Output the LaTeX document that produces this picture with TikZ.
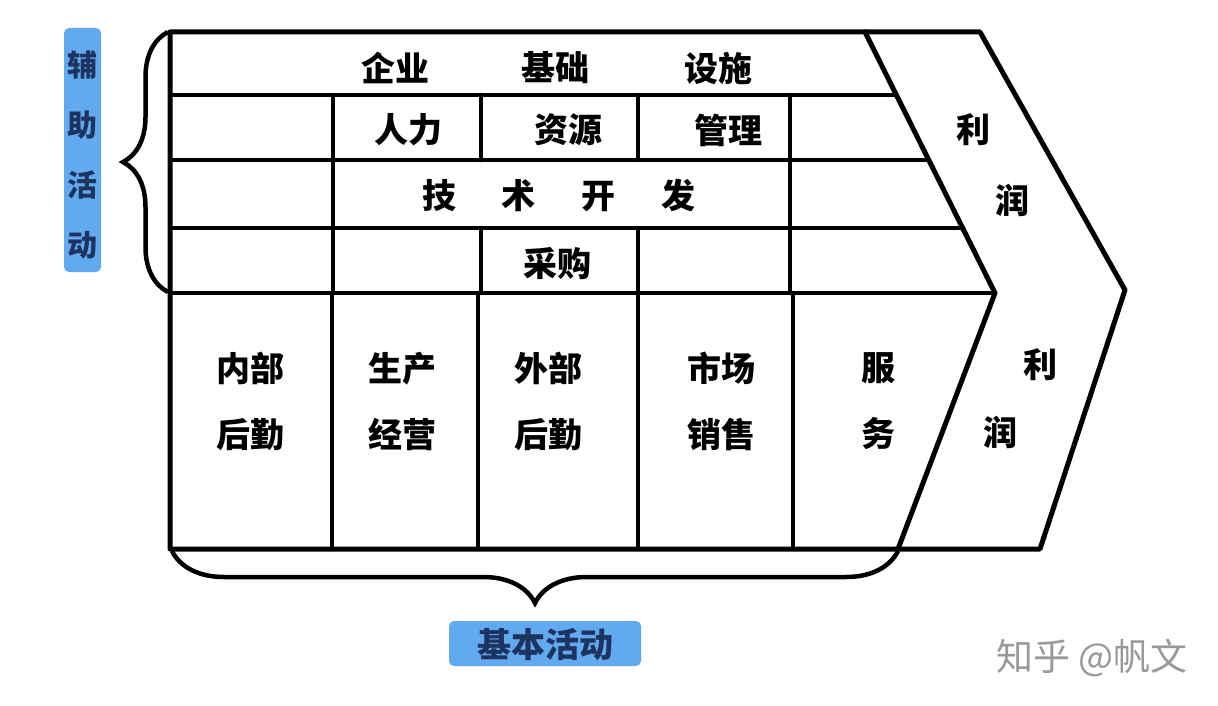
\documentclass[tikz,border=0pt]{standalone}
\usepackage{fontspec}
\newfontfamily\cjk{Noto Sans CJK SC}
\usetikzlibrary{decorations.pathreplacing}
\definecolor{hiblue}{RGB}{98,170,240}
\definecolor{tagink}{RGB}{30,52,96}
\tikzset{
  frame/.style  = {line width=5pt, line join=round, line cap=round},
  rule/.style   = {line width=4.5pt, line cap=round},
  lbl/.style    = {font=\cjk\bfseries\fontsize{34}{66}\selectfont, inner sep=0pt, align=center},
  tag/.style    = {lbl, text=tagink},
  hilite/.style = {fill=hiblue, rounded corners=5pt},
  curly/.style  = {decorate, decoration={brace, amplitude=#1}, line width=4.5pt},
  wmark/.style  = {font=\cjk\fontsize{37}{40}\selectfont, text=black!40, inner sep=0pt},
}
\begin{document}
\begin{tikzpicture}[x=1pt, y=-1pt]
  \useasboundingbox (0,0) rectangle (1218,706);
  % highlights
  \fill[hilite] (64,28) rectangle (101,272);
  \fill[hilite] (449,621) rectangle (641,666);
  % outer frame with profit chevron
  \draw[frame] (170,32) -- (980,32) -- (1125,290) -- (1040,549) -- (170,549) -- cycle;
  \draw[frame] (865,32) -- (995,293) -- (898,549);
  % support rows
  \draw[rule] (170,95)  -- (896,95);
  \draw[rule] (170,160) -- (929,160);
  \draw[rule] (170,228) -- (963,228);
  \draw[rule] (170,293) -- (995,293);
  \draw[rule] (333,95) -- (333,293);
  \draw[rule] (790,95) -- (790,293);
  \foreach \x in {481,638} {
    \draw[rule] (\x,95) -- (\x,160);
    \draw[rule] (\x,228) -- (\x,293);
  }
  % primary columns
  \foreach \x in {332,478,638,793}
    \draw[rule] (\x,293) -- (\x,549);
  % braces
  \draw[curly=45pt] (168,292) -- (168,32);
  \draw[curly=52pt] (898,551) -- (172,551);
  % support labels
  \node[lbl] (infra1) at (395,68) {企业};
  \node[lbl] (infra2) at (555,68) {基础};
  \node[lbl] (infra3) at (718,68) {设施};
  \node[lbl] (hr1) at (408,130) {人力};
  \node[lbl] (hr2) at (568,130) {资源};
  \node[lbl] (hr3) at (728,130) {管理};
  \node[lbl] (tech) at (559,196) {技\hspace{46pt}术\hspace{46pt}开\hspace{46pt}发};
  \node[lbl] (buy) at (557,264) {采购};
  \node[lbl] (profitA1) at (973,130) {利};
  \node[lbl] (profitA2) at (1012,200) {润};
  % primary labels
  \node[lbl] (inlog) at (250,401) {内部\\后勤};
  \node[lbl] (ops) at (402,401) {生产\\经营};
  \node[lbl] (outlog) at (548,401) {外部\\后勤};
  \node[lbl] (sales) at (721,401) {市场\\销售};
  \node[lbl] (serv) at (878,401) {服\\务};
  \node[lbl] (profitB1) at (1040,365) {利};
  \node[lbl] (profitB2) at (1000,432) {润};
  % group tags
  \node[tag, font=\cjk\bfseries\fontsize{30}{60}\selectfont] (support) at (82,155) {辅\\助\\活\\动};
  \node[tag] (primary) at (545,645) {基本活动};
  \node[wmark] (wm) at (1092,658) {知乎 @帆文};
\end{tikzpicture}
\end{document}
